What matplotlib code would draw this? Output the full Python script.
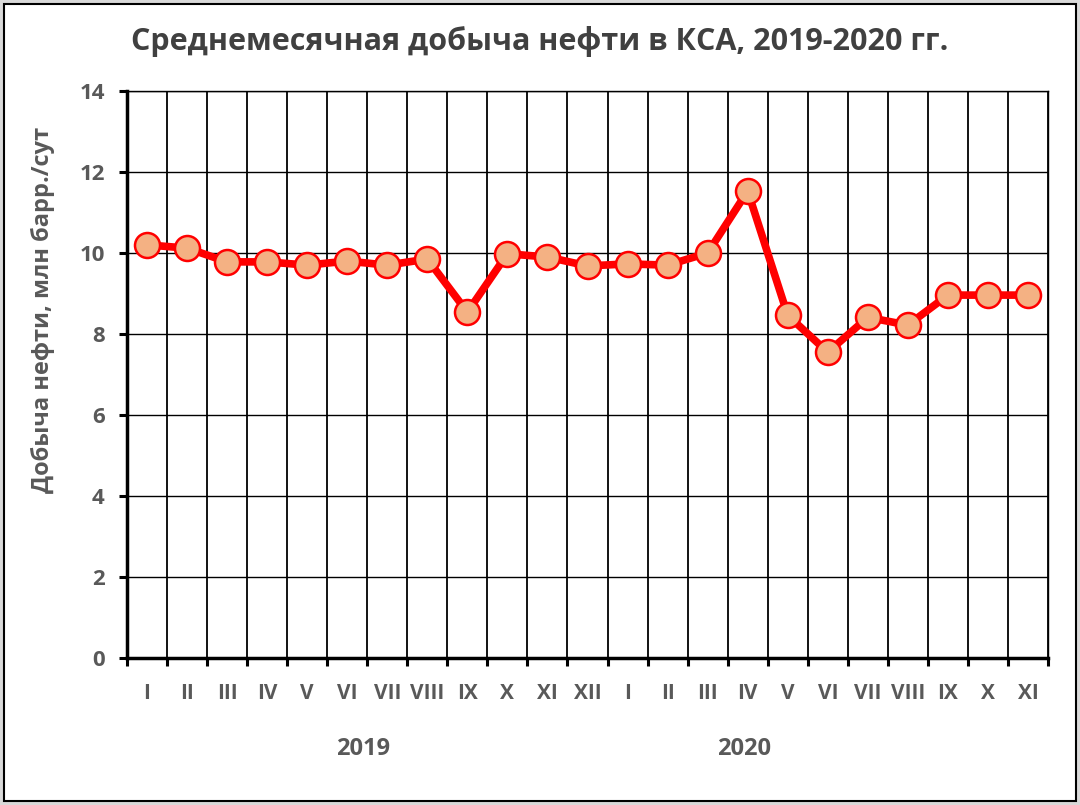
import numpy as np
import matplotlib
matplotlib.use("Agg")
import matplotlib.pyplot as plt
from matplotlib.patches import Rectangle

# monthly data, mln bbl/day
months = ["I", "II", "III", "IV", "V", "VI", "VII", "VIII", "IX", "X", "XI", "XII",
          "I", "II", "III", "IV", "V", "VI", "VII", "VIII", "IX", "X", "XI"]
production = [10.2, 10.12, 9.78, 9.78, 9.7, 9.8, 9.7, 9.85, 8.54, 9.98, 9.9, 9.68,
              9.73, 9.7, 10.0, 11.53, 8.46, 7.55, 8.41, 8.22, 8.96, 8.96, 8.96]
years = ["2019", "2020"]
year_pos = [5.4, 14.9]

plt.rcParams['font.family'] = ['Open Sans', 'DejaVu Sans']
txt_col = "#595959"

fig = plt.figure(figsize=(10.8, 8.05), dpi=100)
fig.patch.set_facecolor("white")
# outer frame
fig.patches.append(Rectangle((0, 0), 1, 1, transform=fig.transFigure,
                             fill=False, edgecolor="#d9d9d9", linewidth=6))
fig.patches.append(Rectangle((0.004, 0.005), 0.992, 0.99, transform=fig.transFigure,
                             fill=False, edgecolor="black", linewidth=1.5))

ax = fig.add_axes([0.1176, 0.1826, 0.8528, 0.7044])
x = np.arange(len(months))
ax.plot(x, production, color="#ff0000", linewidth=5.5, marker="o", markersize=18,
        markerfacecolor="#f4b183", markeredgecolor="#ff0000", markeredgewidth=1.8, zorder=3)

ax.set_xlim(-0.5, len(months) - 0.5)
ax.set_ylim(0, 14)
ax.set_yticks(np.arange(0, 15, 2))
ax.set_xticks(x)
ax.set_xticklabels(months)
ax.set_xticks(np.arange(-0.5, len(months), 1), minor=True)

ax.grid(True, which="minor", axis="x", color="black", linewidth=1.3)
ax.grid(True, which="major", axis="y", color="black", linewidth=1.0)
ax.set_axisbelow(True)

ax.tick_params(axis="x", which="major", length=0, pad=18, labelsize=15, labelcolor=txt_col)
ax.tick_params(axis="x", which="minor", length=6, width=2.2, direction="out", color="black")
ax.tick_params(axis="y", which="major", length=6, width=2.2, direction="out", pad=10,
               labelsize=16, labelcolor=txt_col)
for lbl in ax.get_xticklabels() + ax.get_yticklabels():
    lbl.set_fontweight("bold")

for side in ["top", "right"]:
    ax.spines[side].set_color("black")
    ax.spines[side].set_linewidth(1.0)
ax.spines["left"].set_linewidth(2.5)
ax.spines["bottom"].set_linewidth(2.5)

for yr, pos in zip(years, year_pos):
    ax.text(pos, -0.16, yr, transform=ax.get_xaxis_transform(), ha="center", va="center",
            fontsize=17, fontweight="bold", color=txt_col)

fig.text(0.04, 0.615, "Добыча нефти, млн барр./сут", rotation=90, ha="center", va="center",
         fontsize=17, fontweight="bold", color=txt_col)
fig.text(0.5, 0.948, "Среднемесячная добыча нефти в КСА, 2019-2020 гг.", ha="center", va="center",
         fontsize=22, fontweight="bold", color="#404040")

fig.savefig("out.png", dpi=100)
